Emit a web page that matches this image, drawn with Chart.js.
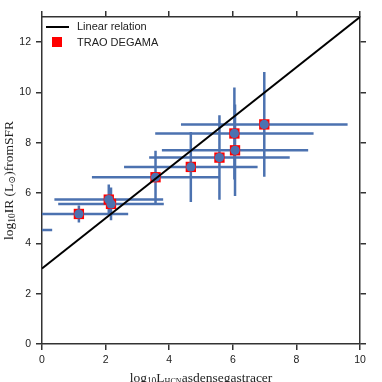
<!DOCTYPE html>
<html>
<head>
<meta charset="utf-8">
<script src="https://cdn.jsdelivr.net/npm/chart.js@4.4.1/dist/chart.umd.min.js"></script>
<style>
  html, body { margin: 0; padding: 0; background: #fff; }
  #wrap { width: 382px; height: 382px; }
</style>
</head>
<body>
<div id="wrap"><canvas id="c" width="382" height="382"></canvas></div>
<script>
// TRAO DEGAMA points with x / y errors (last one sits left of the axis)
const xVals = [1.16, 2.10, 2.17, 3.57, 4.68, 5.58, 6.07, 6.05, 6.99, -1.50];
const yVals = [5.17, 5.74, 5.57, 6.63, 7.04, 7.41, 7.70, 8.37, 8.73, 4.53];
const xErr  = [1.55, 1.71, 1.66, 2.00, 2.10, 2.21, 2.30, 2.49, 2.62, 1.82];
const yErr  = [0.34, 0.60, 0.65, 1.05, 1.39, 1.68, 1.82, 1.83, 2.08, 0.50];

// linear relation endpoints
const lineX = [0, 10];
const lineY = [3, 13];

const xTicks = [0, 2, 4, 6, 8, 10];
const yTicks = [0, 2, 4, 6, 8, 10, 12];

const BLUE = '#4c72b0';
const RED = '#ff0000';
const AXIS = '#333333';
const SERIF = '"Liberation Serif", "DejaVu Serif", serif';
const SANS = '"Liberation Sans", Arial, sans-serif';

const points = xVals.map((x, i) => ({ x: x, y: yVals[i] }));

const errorBars = {
  id: 'errorBars',
  beforeDatasetsDraw(chart) {
    const { ctx, chartArea: a, scales } = chart;
    const xs = scales.x, ys = scales.y;
    ctx.save();
    ctx.beginPath();
    ctx.rect(a.left, a.top, a.right - a.left, a.bottom - a.top);
    ctx.clip();
    ctx.strokeStyle = BLUE;
    ctx.lineWidth = 2.5;
    xVals.forEach((x, i) => {
      const y = yVals[i];
      const px = xs.getPixelForValue(x), py = ys.getPixelForValue(y);
      ctx.beginPath();
      ctx.moveTo(xs.getPixelForValue(x - xErr[i]), py);
      ctx.lineTo(xs.getPixelForValue(x + xErr[i]), py);
      ctx.moveTo(px, ys.getPixelForValue(y - yErr[i]));
      ctx.lineTo(px, ys.getPixelForValue(y + yErr[i]));
      ctx.stroke();
    });
    ctx.restore();
  }
};

// draws text made of normal and subscript pieces, centred on (cx, cy)
function richText(ctx, parts, size, cx, cy, angle) {
  ctx.save();
  ctx.translate(cx, cy);
  ctx.rotate(angle);
  ctx.textBaseline = 'alphabetic';
  ctx.fillStyle = '#222';
  let w = 0;
  parts.forEach(p => {
    ctx.font = (size * p.s) + 'px ' + SERIF;
    w += ctx.measureText(p.t).width;
  });
  let x = -w / 2;
  parts.forEach(p => {
    ctx.font = (size * p.s) + 'px ' + SERIF;
    ctx.fillText(p.t, x, size * 0.35 + (p.dy || 0) * size);
    x += ctx.measureText(p.t).width;
  });
  ctx.restore();
}

const decorations = {
  id: 'decorations',
  afterDraw(chart) {
    const { ctx, chartArea: a } = chart;
    // axis titles
    richText(ctx, [
      { t: 'log', s: 1 }, { t: '10', s: 0.7, dy: 0.2 },
      { t: 'L', s: 1 }, { t: 'HCN', s: 0.6, dy: 0.2 },
      { t: 'asdensegastracer', s: 1 }
    ], 13.5, (a.left + a.right) / 2, 377, 0);
    richText(ctx, [
      { t: 'log', s: 1 }, { t: '10', s: 0.7, dy: 0.2 },
      { t: 'IR (L', s: 1 }, { t: '\u2299', s: 0.7, dy: 0.2 },
      { t: ')fromSFR', s: 1 }
    ], 13.5, 8, (a.top + a.bottom) / 2, -Math.PI / 2);

    // legend in the upper left corner
    ctx.save();
    ctx.strokeStyle = '#000';
    ctx.lineWidth = 2;
    ctx.beginPath();
    ctx.moveTo(a.left + 4, a.top + 10);
    ctx.lineTo(a.left + 27, a.top + 10);
    ctx.stroke();
    ctx.fillStyle = RED;
    ctx.fillRect(a.left + 10, a.top + 20, 10, 10);
    ctx.fillStyle = '#222';
    ctx.font = '11px ' + SANS;
    ctx.textBaseline = 'middle';
    ctx.fillText('Linear relation', a.left + 35, a.top + 10);
    ctx.fillText('TRAO DEGAMA', a.left + 35, a.top + 25.5);
    ctx.restore();
  }
};

function fixedSize(w, h) {
  return function (scale) {
    if (w !== null) scale.width = w;
    if (h !== null) scale.height = h;
  };
}

const gridOpts = {
  display: true,
  drawOnChartArea: false,
  drawTicks: true,
  tickLength: 6,
  color: AXIS,
  lineWidth: 1.5
};
const borderOpts = { display: true, color: AXIS, width: 1.5 };
const tickFont = { family: SANS, size: 10.5 };

new Chart(document.getElementById('c'), {
  type: 'scatter',
  data: {
    datasets: [
      {
        type: 'line',
        label: 'Linear relation',
        data: lineX.map((x, i) => ({ x: x, y: lineY[i] })),
        borderColor: '#000',
        borderWidth: 2,
        pointRadius: 0,
        fill: false,
        order: 0
      },
      {
        label: 'markers',
        data: points,
        pointStyle: 'circle',
        pointRadius: 4.6,
        backgroundColor: BLUE,
        borderWidth: 0,
        order: 1
      },
      {
        label: 'TRAO DEGAMA',
        data: points,
        pointStyle: 'rect',
        pointRadius: 7.3,
        backgroundColor: RED,
        borderWidth: 0,
        order: 2
      }
    ]
  },
  options: {
    responsive: false,
    animation: false,
    devicePixelRatio: 1,
    layout: { padding: 0 },
    plugins: { legend: { display: false }, tooltip: { enabled: false } },
    scales: {
      x: {
        type: 'linear', position: 'bottom', min: 0, max: 10,
        afterBuildTicks: s => { s.ticks = xTicks.map(v => ({ value: v })); },
        afterFit: fixedSize(null, 38),
        ticks: { font: tickFont, color: '#222', padding: 4, maxRotation: 0 },
        grid: gridOpts, border: borderOpts
      },
      x2: {
        type: 'linear', position: 'top', min: 0, max: 10,
        afterBuildTicks: s => { s.ticks = xTicks.map(v => ({ value: v })); },
        afterFit: fixedSize(null, 17),
        ticks: { display: false },
        grid: gridOpts, border: borderOpts
      },
      y: {
        type: 'linear', position: 'left', min: 0, max: 13,
        afterBuildTicks: s => { s.ticks = yTicks.map(v => ({ value: v })); },
        afterFit: fixedSize(42, null),
        ticks: { font: tickFont, color: '#222', padding: 5 },
        grid: gridOpts, border: borderOpts
      },
      y2: {
        type: 'linear', position: 'right', min: 0, max: 13,
        afterBuildTicks: s => { s.ticks = yTicks.map(v => ({ value: v })); },
        afterFit: fixedSize(22, null),
        ticks: { display: false },
        grid: gridOpts, border: borderOpts
      }
    }
  },
  plugins: [errorBars, decorations]
});
</script>
</body>
</html>
